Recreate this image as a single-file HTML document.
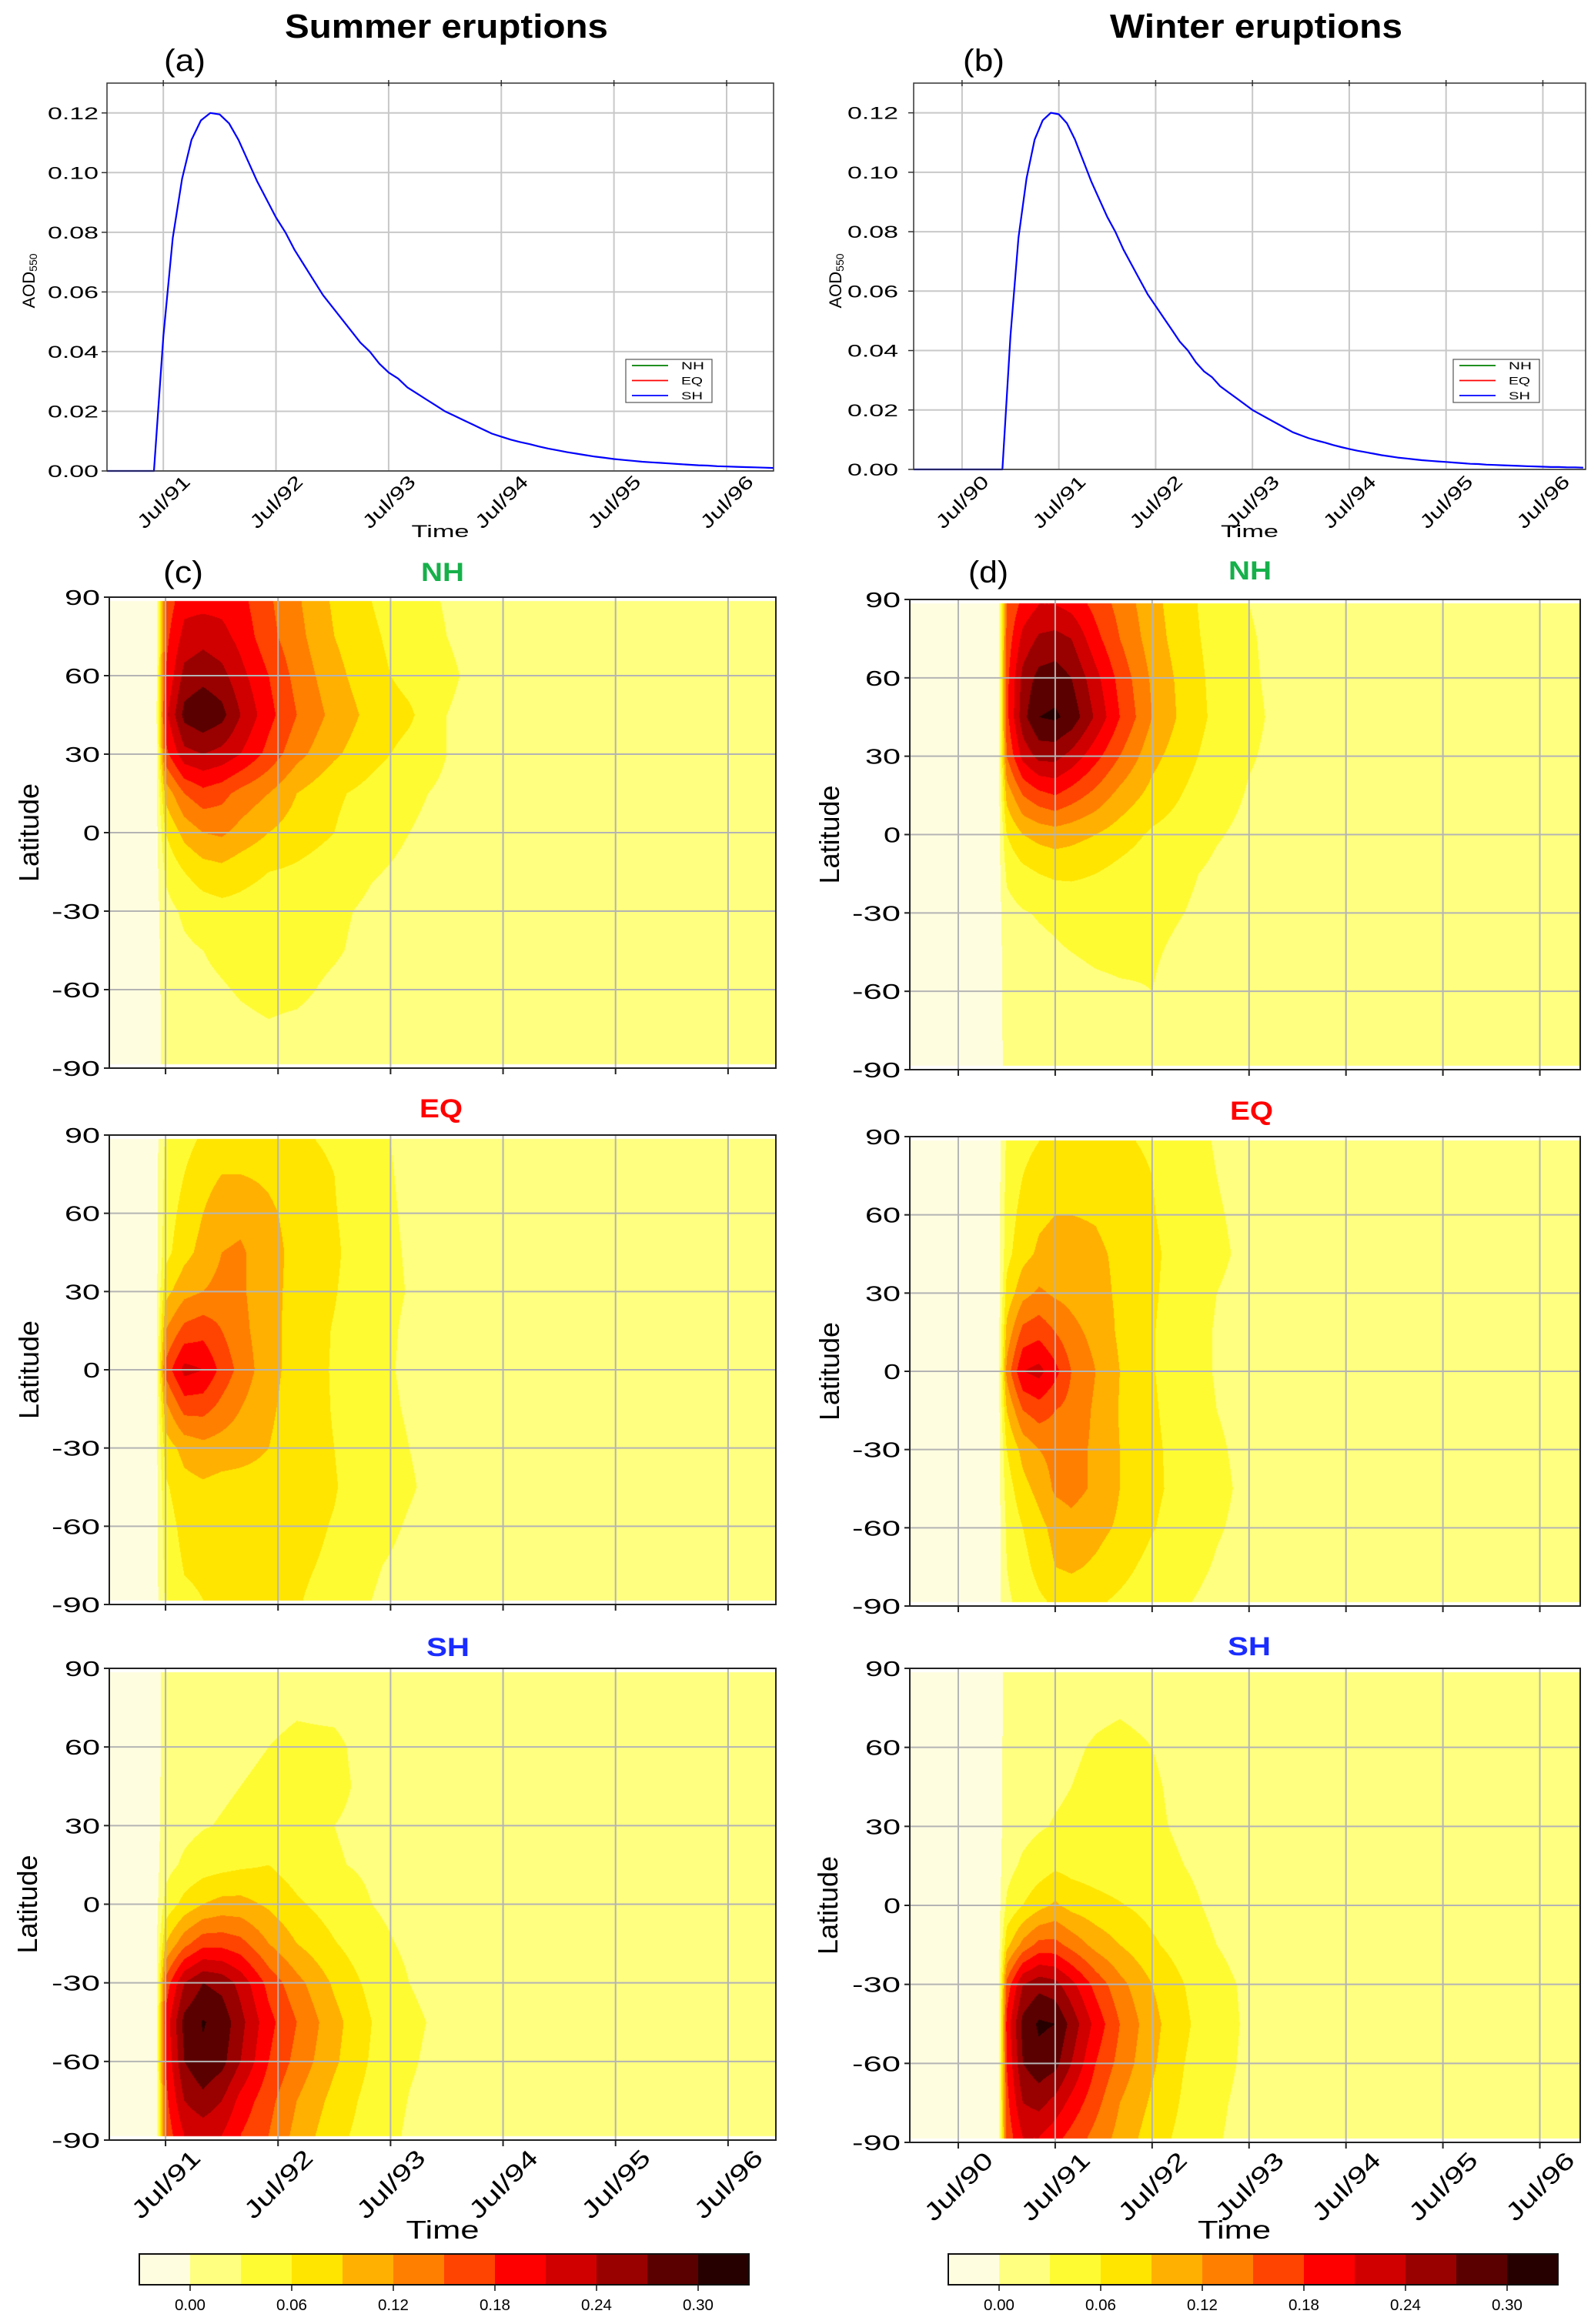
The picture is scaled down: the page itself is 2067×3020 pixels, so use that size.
<!DOCTYPE html>
<html><head><meta charset="utf-8"><title>Volcanic AOD summer vs winter eruptions</title>
<style>
body{margin:0;width:2067px;height:3020px;background:#fff;position:relative;overflow:hidden;font-family:"Liberation Sans",sans-serif}
canvas{position:absolute}
#fig{position:absolute;left:0;top:0}
</style></head>
<body>
<div id="fields"></div>
<svg id="fig" width="2067" height="3020" xmlns="http://www.w3.org/2000/svg"></svg>
<script>
// ---------- line chart data (monthly AOD550) ----------
const summerAod = [0,0,0,0,0,0,0.045,0.078,0.098,0.111,0.1175,0.120,0.1195,0.1165,0.111,0.104,0.097,0.091,0.085,0.080,0.074,0.069,0.064,0.059,0.055,0.051,0.047,0.043,0.040,0.036,0.033,0.031,0.028,0.026,0.024,0.022,0.020,0.0185,0.017,0.0155,0.014,0.0125,0.0115,0.0105,0.0097,0.009,0.0082,0.0075,0.0069,0.0063,0.0058,0.0053,0.0048,0.0044,0.004,0.0037,0.0034,0.0031,0.0029,0.0027,0.0025,0.0023,0.0021,0.0019,0.0018,0.0016,0.0015,0.0014,0.0013,0.0012,0.0011,0.001];
const winterAod = [0,0,0,0,0,0,0,0,0,0,0,0,0.045,0.078,0.098,0.111,0.1175,0.120,0.1195,0.1165,0.111,0.104,0.097,0.091,0.085,0.080,0.074,0.069,0.064,0.059,0.055,0.051,0.047,0.043,0.040,0.036,0.033,0.031,0.028,0.026,0.024,0.022,0.020,0.0185,0.017,0.0155,0.014,0.0125,0.0115,0.0105,0.0097,0.009,0.0082,0.0075,0.0069,0.0063,0.0058,0.0053,0.0048,0.0044,0.004,0.0037,0.0034,0.0031,0.0029,0.0027,0.0025,0.0023,0.0021,0.0019,0.0018,0.0016,0.0015,0.0014,0.0013,0.0012,0.0011,0.001,0.0009,0.0008,0.0008,0.0007,0.0007,0.0006];
const aodTicks = [0,0.02,0.04,0.06,0.08,0.10,0.12];
const aodTickLabels = ['0.00','0.02','0.04','0.06','0.08','0.10','0.12'];
const summerTimeTicks = [6,18,30,42,54,66];
const summerTimeLabels = ['Jul/91','Jul/92','Jul/93','Jul/94','Jul/95','Jul/96'];
const winterTimeTicks = [6,18,30,42,54,66,78];
const winterTimeLabels = ['Jul/90','Jul/91','Jul/92','Jul/93','Jul/94','Jul/95','Jul/96'];
const legendNames = ['NH','EQ','SH'];
const latTicks = [90,60,30,0,-30,-60,-90];
const latTickLabels = ['90','60','30','0','-30','-60','-90'];
const cbarLevels = [-0.03,0,0.03,0.06,0.09,0.12,0.15,0.18,0.21,0.24,0.27,0.30,0.33];
const cbarTickValues = [0,0.06,0.12,0.18,0.24,0.30];
const cbarTickLabels = ['0.00','0.06','0.12','0.18','0.24','0.30'];

// ---------- contour field data: rows = latitude, cols = month ----------
const latRows = [88,75,60,45,30,15,0,-15,-30,-45,-60,-75,-88];
const summerCols = [5,6,8,10,12,14,17,20,24,28,32,36,42,72];
const winterCols = [11,12,14,16,18,20,23,26,30,34,38,42,48,84];
const nhSummer = [
[-.01,.16,.20,.20,.20,.19,.155,.125,.085,.06,.04,.028,.018,.01],
[-.01,.17,.22,.23,.22,.20,.16,.13,.09,.065,.045,.03,.02,.01],
[-.01,.18,.25,.26,.25,.22,.18,.14,.10,.07,.05,.033,.02,.01],
[-.01,.20,.28,.295,.28,.24,.19,.15,.11,.08,.065,.03,.02,.01],
[-.01,.17,.23,.24,.23,.21,.17,.13,.095,.07,.05,.03,.02,.01],
[-.01,.10,.15,.17,.16,.14,.12,.09,.065,.05,.035,.025,.018,.01],
[-.01,.06,.10,.12,.125,.11,.09,.075,.06,.04,.03,.022,.016,.01],
[-.01,.035,.06,.075,.08,.07,.06,.055,.045,.032,.025,.02,.015,.01],
[-.01,.02,.035,.045,.05,.05,.045,.04,.035,.025,.02,.018,.014,.01],
[-.01,.015,.025,.03,.035,.04,.042,.04,.033,.022,.018,.015,.012,.01],
[-.01,.012,.02,.025,.028,.032,.036,.035,.025,.018,.015,.013,.011,.01],
[-.01,.01,.015,.02,.022,.025,.028,.025,.02,.015,.013,.012,.011,.01],
[-.01,.01,.012,.015,.018,.02,.022,.02,.018,.015,.012,.011,.01,.01]];
const eqSummer = [
[-.01,.035,.05,.065,.07,.07,.068,.065,.055,.035,.025,.02,.015,.01],
[-.01,.04,.06,.08,.09,.09,.085,.075,.06,.036,.026,.02,.015,.01],
[-.01,.045,.07,.09,.105,.11,.095,.08,.062,.037,.027,.02,.015,.01],
[-.01,.05,.08,.10,.12,.125,.10,.082,.065,.038,.028,.02,.015,.01],
[-.01,.08,.11,.12,.13,.125,.10,.08,.062,.038,.029,.021,.015,.01],
[-.01,.12,.16,.17,.15,.13,.10,.078,.058,.037,.027,.02,.015,.01],
[-.01,.16,.22,.21,.17,.14,.10,.078,.057,.035,.027,.02,.015,.01],
[-.01,.11,.16,.16,.14,.12,.095,.077,.058,.037,.028,.021,.015,.01],
[-.01,.075,.10,.11,.105,.10,.09,.075,.06,.04,.03,.022,.015,.01],
[-.01,.055,.08,.085,.08,.08,.08,.075,.062,.042,.032,.022,.015,.01],
[-.01,.045,.07,.075,.07,.07,.072,.07,.058,.038,.028,.02,.015,.01],
[-.01,.04,.062,.065,.062,.062,.065,.065,.055,.032,.025,.019,.015,.01],
[-.01,.035,.055,.06,.06,.06,.062,.062,.05,.03,.023,.018,.015,.01]];
const shSummer = [
[-.01,.01,.012,.014,.016,.018,.02,.022,.022,.02,.015,.012,.011,.01],
[-.01,.01,.013,.016,.019,.022,.025,.028,.026,.02,.016,.013,.011,.01],
[-.01,.011,.015,.019,.023,.027,.03,.034,.034,.022,.017,.014,.011,.01],
[-.01,.012,.017,.022,.026,.03,.033,.038,.035,.024,.018,.014,.011,.01],
[-.01,.014,.022,.028,.032,.036,.04,.036,.03,.024,.018,.014,.011,.01],
[-.01,.02,.035,.045,.05,.055,.06,.045,.032,.026,.019,.015,.012,.01],
[-.01,.04,.07,.09,.10,.10,.085,.065,.045,.03,.021,.016,.012,.01],
[-.01,.09,.14,.17,.17,.16,.12,.09,.062,.038,.025,.018,.013,.01],
[-.01,.16,.24,.27,.26,.23,.17,.13,.085,.05,.03,.02,.014,.01],
[-.01,.19,.28,.302,.29,.25,.19,.15,.10,.06,.035,.024,.014,.01],
[-.01,.18,.27,.295,.28,.24,.18,.14,.095,.056,.033,.021,.014,.01],
[-.01,.17,.24,.26,.24,.20,.16,.12,.08,.048,.029,.019,.013,.01],
[-.01,.16,.21,.22,.21,.18,.15,.11,.07,.045,.026,.017,.013,.01]];
const nhWinter = [
[-.01,.15,.19,.21,.21,.20,.17,.14,.10,.07,.045,.03,.02,.01],
[-.01,.16,.22,.245,.25,.24,.19,.15,.105,.072,.048,.032,.02,.01],
[-.01,.17,.25,.28,.285,.27,.22,.17,.115,.078,.05,.033,.02,.01],
[-.01,.17,.26,.30,.305,.29,.235,.18,.12,.08,.052,.035,.02,.01],
[-.01,.15,.22,.25,.25,.23,.19,.15,.10,.07,.046,.032,.02,.01],
[-.01,.10,.15,.17,.18,.165,.14,.11,.08,.058,.04,.028,.02,.01],
[-.01,.06,.09,.10,.105,.10,.09,.075,.055,.045,.032,.024,.018,.01],
[-.01,.035,.05,.06,.065,.065,.06,.05,.04,.034,.025,.02,.015,.01],
[-.01,.02,.028,.032,.035,.04,.042,.04,.035,.03,.022,.018,.014,.01],
[-.01,.015,.02,.024,.027,.03,.033,.034,.032,.026,.02,.016,.013,.01],
[-.01,.012,.016,.019,.021,.023,.026,.028,.03,.022,.018,.015,.012,.01],
[-.01,.011,.013,.015,.017,.018,.02,.021,.02,.018,.016,.013,.011,.01],
[-.01,.01,.012,.013,.014,.015,.016,.017,.016,.015,.013,.012,.011,.01]];
const eqWinter = [
[-.01,.035,.05,.06,.065,.07,.07,.065,.055,.04,.028,.022,.016,.01],
[-.01,.04,.06,.075,.085,.085,.08,.075,.06,.042,.03,.022,.016,.01],
[-.01,.045,.07,.085,.09,.09,.088,.08,.062,.045,.032,.024,.017,.01],
[-.01,.05,.08,.095,.10,.10,.095,.085,.065,.048,.034,.025,.017,.01],
[-.01,.07,.11,.125,.115,.11,.10,.085,.064,.045,.03,.023,.017,.01],
[-.01,.10,.16,.17,.15,.13,.11,.085,.062,.042,.028,.022,.016,.01],
[-.01,.13,.21,.22,.19,.15,.12,.09,.062,.042,.028,.022,.016,.01],
[-.01,.09,.15,.165,.15,.14,.115,.088,.064,.045,.03,.023,.017,.01],
[-.01,.06,.10,.12,.13,.13,.115,.09,.066,.048,.033,.024,.017,.01],
[-.01,.045,.08,.10,.125,.13,.115,.09,.066,.05,.035,.025,.017,.01],
[-.01,.035,.06,.08,.10,.11,.10,.085,.062,.045,.032,.024,.017,.01],
[-.01,.03,.05,.07,.09,.095,.085,.07,.05,.038,.028,.021,.016,.01],
[-.01,.025,.04,.055,.065,.07,.065,.055,.042,.032,.024,.019,.015,.01]];
const shWinter = [
[-.01,.01,.012,.014,.016,.018,.02,.022,.02,.017,.014,.012,.011,.01],
[-.01,.01,.013,.016,.019,.022,.026,.028,.025,.02,.016,.013,.011,.01],
[-.01,.011,.015,.019,.023,.027,.032,.035,.03,.022,.017,.014,.011,.01],
[-.01,.012,.017,.022,.026,.03,.035,.036,.033,.024,.018,.014,.011,.01],
[-.01,.014,.021,.027,.032,.035,.036,.036,.034,.026,.019,.015,.012,.01],
[-.01,.02,.035,.045,.055,.05,.046,.042,.038,.03,.021,.016,.012,.01],
[-.01,.035,.06,.08,.095,.08,.07,.062,.05,.037,.024,.018,.013,.01],
[-.01,.08,.13,.16,.16,.14,.11,.09,.065,.045,.03,.02,.014,.01],
[-.01,.16,.24,.26,.25,.22,.17,.13,.09,.06,.038,.025,.015,.01],
[-.01,.19,.28,.305,.30,.26,.20,.15,.10,.065,.04,.026,.016,.01],
[-.01,.18,.27,.29,.28,.24,.18,.14,.095,.06,.038,.025,.015,.01],
[-.01,.17,.24,.25,.23,.20,.16,.12,.085,.055,.034,.023,.015,.01],
[-.01,.16,.21,.21,.19,.17,.14,.11,.075,.05,.032,.022,.014,.01]];

const levelColors = ['#FFFDE0','#FFFF80','#FFFB33','#FFE500','#FFB000','#FF7F00','#FF4300','#FF0000','#D00000','#990000','#5A0000','#260000'];

const SVGNS = 'http://www.w3.org/2000/svg';
const fig = document.getElementById('fig');
function mk(tag, attrs, parent){
  const e = document.createElementNS(SVGNS, tag);
  for (const k in attrs) e.setAttribute(k, attrs[k]);
  (parent || fig).appendChild(e);
  return e;
}
function mkText(s, attrs, parent){
  const e = mk('text', attrs, parent);
  e.textContent = s;
  return e;
}
function hex(c){ return [parseInt(c.slice(1,3),16),parseInt(c.slice(3,5),16),parseInt(c.slice(5,7),16)]; }
const levelRGB = levelColors.map(hex);

// ---------- titles ----------
let t;
t = mkText('Summer eruptions', {x:580,y:49,'text-anchor':'middle','font-size':44,'font-weight':'bold',textLength:420,lengthAdjust:'spacingAndGlyphs'});


t = mkText('Winter eruptions', {x:1632,y:49,'text-anchor':'middle','font-size':44,'font-weight':'bold',textLength:380,lengthAdjust:'spacingAndGlyphs'});



// ---------- line panels ----------
const linePanels = [
  {key:'a', x0:139, x1:1005, y0:108, y1:612, tmax:71, series:summerAod, ticks:summerTimeTicks, labels:summerTimeLabels, lx:240, ylx:37, yTickRight:128, legX:813},
  {key:'b', x0:1187, x1:2060, y0:108, y1:610, tmax:83.3, series:winterAod, ticks:winterTimeTicks, labels:winterTimeLabels, lx:1278, ylx:1085, yTickRight:1167, legX:1888}
];
linePanels.forEach(p => {
  const g = mk('g', {});
  
  
  const xs = m => p.x0 + (m / p.tmax) * (p.x1 - p.x0);
  const ys = v => p.y1 - (v / 0.13) * (p.y1 - p.y0);
  aodTicks.forEach((v, i) => {
    const gl = mk('line', {x1:p.x0,x2:p.x1,y1:ys(v),y2:ys(v),stroke:'#c8c8c8','stroke-width':2}, g);
    
    
    const tk = mk('line', {x1:p.x0-7,x2:p.x0,y1:ys(v),y2:ys(v),stroke:'#333','stroke-width':1.5}, g);
    
    
    const lb = mkText(aodTickLabels[i], {x:p.yTickRight,y:ys(v)+8,'text-anchor':'end','font-size':22,textLength:66,lengthAdjust:'spacingAndGlyphs'}, g);
    
    
  });
  p.ticks.forEach((m, i) => {
    const gl = mk('line', {x1:xs(m),x2:xs(m),y1:p.y0,y2:p.y1,stroke:'#c8c8c8','stroke-width':2}, g);
    
    
    const tk = mk('line', {x1:xs(m),x2:xs(m),y1:p.y0-4,y2:p.y0+4,stroke:'#333','stroke-width':1.5}, g);
    
    
    const lb = mkText(p.labels[i], {x:0,y:0,'text-anchor':'middle','font-size':24,dy:'0.35em',textLength:86,lengthAdjust:'spacingAndGlyphs',transform:'translate(' + xs(m) + ',652) rotate(-45)'}, g);
    
    
  });
  let d = '';
  p.series.forEach((v, m) => { if (m <= p.tmax) d += (d ? 'L' : 'M') + xs(m).toFixed(1) + ',' + ys(v).toFixed(1); });
  const path = mk('path', {d:d,fill:'none',stroke:'#0000ff','stroke-width':2.2,'stroke-linejoin':'round'}, g);
  
  
  const fr = mk('rect', {x:p.x0,y:p.y0,width:p.x1-p.x0,height:p.y1-p.y0,fill:'none',stroke:'#333','stroke-width':1.5}, g);
  
  
  const pl = mkText('(' + p.key + ')', {x:p.lx,y:92,'text-anchor':'middle','font-size':40,textLength:54,lengthAdjust:'spacingAndGlyphs'}, g);
  
  
  const xt = mkText('Time', {x:(p.x0+p.x1)/2,y:698,'text-anchor':'middle','font-size':22,textLength:75,lengthAdjust:'spacingAndGlyphs'}, g);
  
  
  const yt = mk('text', {x:0,y:0,'text-anchor':'middle','font-size':22,transform:'translate(' + (p.ylx+8) + ',365) rotate(-90)'}, g);
  yt.innerHTML = 'AOD<tspan font-size="14" dy="3">550</tspan>';
  
  
  const lg = mk('g', {}, g);
  
  
  const lbox = mk('rect', {x:p.legX,y:467,width:112,height:56,fill:'#fff',stroke:'#555','stroke-width':1.2}, lg);
  
  
  const legColors = ['#008000','#ff0000','#0000ff'];
  legendNames.forEach((n, i) => {
    const yy = 475 + i * 19.5;
    const ln = mk('line', {x1:p.legX+8,x2:p.legX+55,y1:yy,y2:yy,stroke:legColors[i],'stroke-width':1.8}, lg);
    
    
    const lt = mkText(n, {x:p.legX+72,y:yy+5,'font-size':14,textLength:n === 'NH' ? 30 : 28,lengthAdjust:'spacingAndGlyphs'}, lg);
    
    
  });
});

// ---------- contour panels ----------
const fieldPanels = [
  {key:'c', x0:142, x1:1008, y0:776, y1:1388, tmax:71.1, grid:nhSummer, cols:summerCols, ticks:summerTimeTicks, labels:null, title:'NH', tcol:'#16b04a', tx:575, ty:755, tag:'(c)', tagx:238, ylx:38},
  {key:'e', x0:142, x1:1008, y0:1475, y1:2085, tmax:71.1, grid:eqSummer, cols:summerCols, ticks:summerTimeTicks, labels:null, title:'EQ', tcol:'#ff0000', tx:573, ty:1452, tag:null, ylx:38},
  {key:'g', x0:142, x1:1008, y0:2168, y1:2781, tmax:71.1, grid:shSummer, cols:summerCols, ticks:summerTimeTicks, labels:summerTimeLabels, title:'SH', tcol:'#1a2cff', tx:582, ty:2152, tag:null, ylx:36},
  {key:'d', x0:1182, x1:2053, y0:779, y1:1390, tmax:83, grid:nhWinter, cols:winterCols, ticks:winterTimeTicks, labels:null, title:'NH', tcol:'#16b04a', tx:1624, ty:753, tag:'(d)', tagx:1284, ylx:1078},
  {key:'f', x0:1182, x1:2053, y0:1477, y1:2087, tmax:83, grid:eqWinter, cols:winterCols, ticks:winterTimeTicks, labels:null, title:'EQ', tcol:'#ff0000', tx:1626, ty:1455, tag:null, ylx:1078},
  {key:'h', x0:1182, x1:2053, y0:2168, y1:2784, tmax:83, grid:shWinter, cols:winterCols, ticks:winterTimeTicks, labels:winterTimeLabels, title:'SH', tcol:'#1a2cff', tx:1623, ty:2151, tag:null, ylx:1076}
];

function fieldValue(grid, cols, tm, lat){
  let i, ft;
  const nc = cols.length;
  if (tm <= cols[0]) { i = 0; ft = 0; }
  else if (tm >= cols[nc-1]) { i = nc - 2; ft = 1; }
  else { i = 0; while (cols[i+1] < tm) i++; ft = (tm - cols[i]) / (cols[i+1] - cols[i]); }
  let j, fl;
  const nr = latRows.length;
  if (lat >= latRows[0]) { j = 0; fl = 0; }
  else if (lat <= latRows[nr-1]) { j = nr - 2; fl = 1; }
  else { j = 0; while (latRows[j+1] > lat) j++; fl = (latRows[j] - lat) / (latRows[j] - latRows[j+1]); }
  const a = grid[j][i] * (1 - ft) + grid[j][i+1] * ft;
  const b = grid[j+1][i] * (1 - ft) + grid[j+1][i+1] * ft;
  return a * (1 - fl) + b * fl;
}
function levelIndex(v){
  let k = 0;
  while (k < levelColors.length - 1 && v >= cbarLevels[k+1]) k++;
  return k;
}

const fieldsDiv = document.getElementById('fields');
fieldPanels.forEach(p => {
  const W = p.x1 - p.x0, H = p.y1 - p.y0;
  const cv = document.createElement('canvas');
  cv.width = W; cv.height = H;
  cv.style.left = p.x0 + 'px'; cv.style.top = p.y0 + 'px';
  
  
  fieldsDiv.appendChild(cv);
  const ctx = cv.getContext('2d');
  const img = ctx.createImageData(W, H);
  for (let py = 0; py < H; py++) {
    const lat = 90 - (py + 0.5) / H * 180;
    for (let px = 0; px < W; px++) {
      const o = (py * W + px) * 4;
      let c;
      if (Math.abs(lat) > 88.6) c = [255,255,255];
      else c = levelRGB[levelIndex(fieldValue(p.grid, p.cols, (px + 0.5) / W * p.tmax, lat))];
      img.data[o] = c[0]; img.data[o+1] = c[1]; img.data[o+2] = c[2]; img.data[o+3] = 255;
    }
  }
  ctx.putImageData(img, 0, 0);

  const g = mk('g', {});
  
  
  const xs = m => p.x0 + (m / p.tmax) * W;
  const ys = lat => p.y0 + (90 - lat) / 180 * H;
  latTicks.forEach((lat, i) => {
    if (Math.abs(lat) < 90) {
      const gl = mk('line', {x1:p.x0,x2:p.x1,y1:ys(lat),y2:ys(lat),stroke:'#b4b4b4','stroke-width':2}, g);
      
      
    }
    const tk = mk('line', {x1:p.x0-7,x2:p.x0,y1:ys(lat),y2:ys(lat),stroke:'#222','stroke-width':2}, g);
    
    
    const s = latTickLabels[i];
    const lb = mkText(s, {x:p.x0-12,y:ys(lat)+10,'text-anchor':'end','font-size':28,textLength:s.length === 1 ? 22 : (s.length === 2 ? 46 : 63),lengthAdjust:'spacingAndGlyphs'}, g);
    
    
  });
  p.ticks.forEach((m, i) => {
    const gl = mk('line', {x1:xs(m),x2:xs(m),y1:p.y0,y2:p.y1,stroke:'#b4b4b4','stroke-width':2}, g);
    
    
    const tk = mk('line', {x1:xs(m),x2:xs(m),y1:p.y1,y2:p.y1+8,stroke:'#222','stroke-width':2}, g);
    
    
    if (p.labels) {
      const lb = mkText(p.labels[i], {x:0,y:0,'text-anchor':'middle','font-size':31,dy:'0.35em',textLength:112,lengthAdjust:'spacingAndGlyphs',transform:'translate(' + xs(m) + ',' + (p.y1 + 57) + ') rotate(-45)'}, g);
      
      
    }
  });
  const fr = mk('rect', {x:p.x0,y:p.y0,width:W,height:H,fill:'none',stroke:'#222','stroke-width':2}, g);
  
  
  const ttl = mkText(p.title, {x:p.tx,y:p.ty,'text-anchor':'middle','font-size':34,'font-weight':'bold',fill:p.tcol,textLength:56,lengthAdjust:'spacingAndGlyphs'}, g);
  
  
  if (p.tag) {
    const tg = mkText(p.tag, {x:p.tagx,y:757,'text-anchor':'middle','font-size':40,textLength:52,lengthAdjust:'spacingAndGlyphs'}, g);
    
    
  }
  const yt = mkText('Latitude', {x:0,y:0,'text-anchor':'middle','font-size':36,textLength:128,lengthAdjust:'spacingAndGlyphs',transform:'translate(' + (p.ylx + 12) + ',' + ((p.y0 + p.y1) / 2) + ') rotate(-90)'}, g);
  
  
  if (p.labels) {
    const xt = mkText('Time', {x:(p.x0 + p.x1) / 2 + (p.key === 'h' ? -14 : 0),y:2909,'text-anchor':'middle','font-size':33,textLength:95,lengthAdjust:'spacingAndGlyphs'}, g);
    
    
  }
});

// ---------- colorbars ----------
[181, 1232].forEach((cx, ci) => {
  const g = mk('g', {});
  
  
  const cw = 792, y0 = 2929, h = 40;
  const n = levelColors.length;
  const cxs = v => cx + (v - cbarLevels[0]) / (cbarLevels[n] - cbarLevels[0]) * cw;
  levelColors.forEach((col, k) => {
    const r = mk('rect', {x:cxs(cbarLevels[k]),y:y0,width:cxs(cbarLevels[k+1]) - cxs(cbarLevels[k]) + 0.5,height:h,fill:col}, g);
    
    
  });
  const fr = mk('rect', {x:cx,y:y0,width:cw,height:h,fill:'none',stroke:'#111','stroke-width':2}, g);
  
  
  cbarTickValues.forEach((v, i) => {
    const tk = mk('line', {x1:cxs(v),x2:cxs(v),y1:y0+h,y2:y0+h+8,stroke:'#111','stroke-width':1.5}, g);
    
    
    const lb = mkText(cbarTickLabels[i], {x:cxs(v),y:3002,'text-anchor':'middle','font-size':20,textLength:40,lengthAdjust:'spacingAndGlyphs'}, g);
    
    
  });
});
</script>
</body></html>
